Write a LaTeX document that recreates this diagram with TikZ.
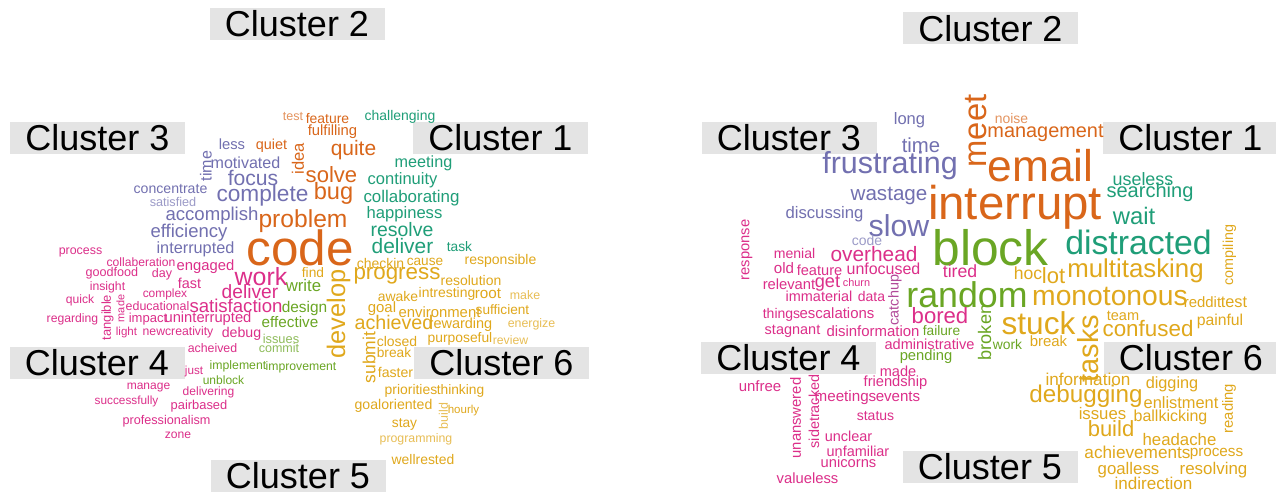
\documentclass[tikz,border=0pt]{standalone}
\usepackage{fontspec}
\setmainfont{Liberation Sans}
\usepackage{graphicx}
\definecolor{cP}{HTML}{7270B0}
\definecolor{cO}{HTML}{D9661A}
\definecolor{cT}{HTML}{1F9E78}
\definecolor{cM}{HTML}{DC2F8A}
\definecolor{cG}{HTML}{6AA624}
\definecolor{cY}{HTML}{E0A81C}
\colorlet{cPl}{cP!70}
\colorlet{cOl}{cO!70}
\colorlet{cGl}{cG!75}
\colorlet{cYl}{cY!75}
\colorlet{cMl}{cM!60!cP}
\definecolor{boxgray}{HTML}{E4E4E4}
\newcommand\wc[7]{\pgfmathsetlengthmacro\wcw{#4*1.01}\node[wordnode,text=#5,rotate=#6] (#1) at (#2,#3) {\resizebox{\wcw}{!}{#7}};}
\begin{document}
\begin{tikzpicture}[x=1pt,y=-1pt,
  wordnode/.style={inner sep=0pt,anchor=center},
  clusterlabel/.style={fill=boxgray,inner sep=0pt,minimum width=175pt,minimum height=32pt,font=\fontsize{36}{36}\selectfont,text=black}]
\useasboundingbox[fill=white] (0,0) rectangle (1276,495);
% ---------------- left cloud ----------------
\node[clusterlabel] (Lc2) at (297,24) {\raisebox{-2pt}{Cluster 2}};
\node[clusterlabel] (Lc3) at (97.5,137.5) {\raisebox{-2pt}{Cluster 3}};
\node[clusterlabel] (Lc1) at (500.5,137.5) {\raisebox{-2pt}{Cluster 1}};
\node[clusterlabel] (Lc4) at (97,362.5) {\raisebox{-2pt}{Cluster 4}};
\node[clusterlabel] (Lc6) at (501.5,362.5) {\raisebox{-2pt}{Cluster 6}};
\node[clusterlabel] (Lc5) at (298,476) {\raisebox{-2pt}{Cluster 5}};
% purple
\wc{L-less}{232}{144}{26}{cP}{0}{less}
\wc{L-time}{206}{166}{30}{cP}{90}{time}
\wc{L-motivated}{245.5}{162.5}{69}{cP}{0}{motivated}
\wc{L-focus}{253}{177.5}{50}{cP}{0}{focus}
\wc{L-concentrate}{170.5}{189}{73}{cP}{0}{concentrate}
\wc{L-satisfied}{173}{201.5}{46}{cPl}{0}{satisfied}
\wc{L-complete}{262.5}{195.5}{91}{cP}{0}{complete}
\wc{L-accomplish}{212}{215.5}{92}{cP}{0}{accomplish}
\wc{L-efficiency}{189}{232.5}{76}{cP}{0}{efficiency}
\wc{L-interrupted}{195.5}{249}{77}{cP}{0}{interrupted}
% orange
\wc{L-test}{293}{116.5}{20}{cOl}{0}{test}
\wc{L-feature}{327.5}{119}{43}{cO}{0}{feature}
\wc{L-fulfilling}{332.5}{132}{49}{cO}{0}{fulfilling}
\wc{L-quiet}{271.5}{146}{31}{cO}{0}{quiet}
\wc{L-idea}{298}{158.5}{31}{cO}{90}{idea}
\wc{L-quite}{353.5}{150}{45}{cO}{0}{quite}
\wc{L-solve}{331.5}{175}{51}{cO}{0}{solve}
\wc{L-bug}{333.5}{193}{39}{cO}{0}{bug}
\wc{L-problem}{303}{221}{88}{cO}{0}{problem}
\wc{L-code}{300}{248}{106}{cO}{0}{code}
% teal
\wc{L-challenging}{400}{116.5}{70}{cT}{0}{challenging}
\wc{L-meeting}{423.5}{163.5}{57}{cT}{0}{meeting}
\wc{L-continuity}{402.5}{180}{69}{cT}{0}{continuity}
\wc{L-collaborating}{411.5}{198.5}{95}{cT}{0}{collaborating}
\wc{L-happiness}{404.5}{214}{75}{cT}{0}{happiness}
\wc{L-resolve}{402}{230}{62}{cT}{0}{resolve}
\wc{L-deliverT}{402.5}{246.5}{61}{cT}{0}{deliver}
\wc{L-task}{459.5}{247}{25}{cT}{0}{task}
% gold
\wc{L-checkin}{380.5}{263}{47}{cY}{0}{checkin}
\wc{L-cause}{425}{262}{36}{cY}{0}{cause}
\wc{L-responsible}{500.5}{260.5}{71}{cY}{0}{responsible}
\wc{L-progress}{397}{276}{86}{cY}{0}{progress}
\wc{L-resolution}{471}{281}{60}{cY}{0}{resolution}
\wc{L-find}{313}{273}{22}{cY}{0}{find}
\wc{L-develop}{338.5}{314}{88}{cY}{90}{develop}
\wc{L-awake}{398}{297}{40}{cY}{0}{awake}
\wc{L-intresting}{447}{293.5}{56}{cY}{0}{intresting}
\wc{L-root}{488}{293.5}{26}{cY}{0}{root}
\wc{L-make}{525}{295}{30}{cYl}{0}{make}
\wc{L-goal}{382}{309}{28}{cY}{0}{goal}
\wc{L-environment}{439.5}{312}{81}{cY}{0}{environment}
\wc{L-sufficient}{502.5}{310}{53}{cY}{0}{sufficient}
\wc{L-achieved}{394}{322.5}{78}{cY}{0}{achieved}
\wc{L-rewarding}{460.5}{325}{63}{cY}{0}{rewarding}
\wc{L-energize}{531.5}{324}{47}{cYl}{0}{energize}
\wc{L-submit}{369}{357.5}{51}{cY}{90}{submit}
\wc{L-closed}{397}{342}{40}{cY}{0}{closed}
\wc{L-purposeful}{460}{338.5}{64}{cY}{0}{purposeful}
\wc{L-review}{510.5}{340.5}{35}{cYl}{0}{review}
\wc{L-break}{394}{352.5}{34}{cY}{0}{break}
\wc{L-faster}{395.5}{372.5}{35}{cY}{0}{faster}
\wc{L-priorities}{411}{391}{52}{cY}{0}{priorities}
\wc{L-thinking}{460.5}{391}{47}{cY}{0}{thinking}
\wc{L-goaloriented}{393.5}{406}{77}{cY}{0}{goaloriented}
\wc{L-build}{443.5}{416}{26}{cYl}{90}{build}
\wc{L-hourly}{463.5}{410.5}{31}{cY}{0}{hourly}
\wc{L-stay}{404.5}{424}{25}{cY}{0}{stay}
\wc{L-programming}{416}{439}{72}{cYl}{0}{programming}
\wc{L-wellrested}{423}{459.5}{62}{cY}{0}{wellrested}
% green
\wc{L-write}{303.5}{286}{35}{cG}{0}{write}
\wc{L-design}{304.5}{308.5}{45}{cG}{0}{design}
\wc{L-effective}{290}{322.5}{56}{cG}{0}{effective}
\wc{L-issues}{281}{339}{36}{cGl}{0}{issues}
\wc{L-commit}{279}{348}{40}{cGl}{0}{commit}
\wc{L-implement}{238}{366}{56}{cG}{0}{implement}
\wc{L-improvement}{301}{367.5}{70}{cG}{0}{improvement}
\wc{L-unblock}{223.5}{380.5}{41}{cG}{0}{unblock}
% magenta
\wc{L-work}{261}{277}{52}{cM}{0}{work}
\wc{L-deliverM}{250}{291.5}{56}{cM}{0}{deliver}
\wc{L-satisfaction}{236}{305.5}{92}{cM}{0}{satisfaction}
\wc{L-uninterrupted}{208}{319}{86}{cM}{0}{uninterrupted}
\wc{L-debug}{241.5}{333.5}{39}{cM}{0}{debug}
\wc{L-acheived}{212.5}{348.5}{49}{cM}{0}{acheived}
\wc{L-just}{194}{371.5}{18}{cM}{0}{just}
\wc{L-process}{80.5}{252}{43}{cM}{0}{process}
\wc{L-collaberation}{141}{262.5}{68}{cM}{0}{collaberation}
\wc{L-engaged}{205.5}{267}{57}{cM}{0}{engaged}
\wc{L-goodfood}{112}{273.5}{52}{cM}{0}{goodfood}
\wc{L-day}{162}{274}{20}{cM}{0}{day}
\wc{L-fast}{189.5}{283}{23}{cM}{0}{fast}
\wc{L-insight}{107.5}{287.5}{35}{cM}{0}{insight}
\wc{L-complex}{165}{294.5}{44}{cM}{0}{complex}
\wc{L-quick}{80}{300}{28}{cM}{0}{quick}
\wc{L-tangible}{107.5}{317.5}{45}{cM}{90}{tangible}
\wc{L-made}{120.5}{308.5}{27}{cM}{90}{made}
\wc{L-educational}{157.5}{306}{63}{cM}{0}{educational}
\wc{L-regarding}{72.5}{319}{51}{cM}{0}{regarding}
\wc{L-impact}{148}{319}{38}{cM}{0}{impact}
\wc{L-light}{126.5}{332.5}{21}{cM}{0}{light}
\wc{L-newcreativity}{178}{332}{70}{cM}{0}{newcreativity}
\wc{L-manage}{148.5}{387.5}{43}{cM}{0}{manage}
\wc{L-delivering}{208.5}{392.5}{51}{cM}{0}{delivering}
\wc{L-successfully}{126.5}{401}{63}{cM}{0}{successfully}
\wc{L-pairbased}{199}{406}{56}{cM}{0}{pairbased}
\wc{L-professionalism}{166.5}{421.5}{87}{cM}{0}{professionalism}
\wc{L-zone}{178}{435}{26}{cM}{0}{zone}
% ---------------- right cloud ----------------
\node[clusterlabel] (Rc2) at (990.5,28.5) {\raisebox{-2pt}{Cluster 2}};
\node[clusterlabel] (Rc3) at (789,137.5) {\raisebox{-2pt}{Cluster 3}};
\node[clusterlabel] (Rc1) at (1190.5,137.5) {\raisebox{-2pt}{Cluster 1}};
\node[clusterlabel] (Rc4) at (788.5,357.5) {\raisebox{-2pt}{Cluster 4}};
\node[clusterlabel] (Rc6) at (1191,357.5) {\raisebox{-2pt}{Cluster 6}};
\node[clusterlabel] (Rc5) at (990,467) {\raisebox{-2pt}{Cluster 5}};
% purple
\wc{R-long}{909.5}{120.5}{31}{cP}{0}{long}
\wc{R-time}{921}{145.5}{38}{cP}{0}{time}
\wc{R-frustrating}{890}{165.5}{134}{cP}{0}{frustrating}
\wc{R-wastage}{889}{196}{76}{cP}{0}{wastage}
\wc{R-discussing}{824.5}{214}{77}{cP}{0}{discussing}
\wc{R-slow}{899}{226}{60}{cP}{0}{slow}
\wc{R-code}{867}{240.5}{30}{cPl}{0}{code}
% orange
\wc{R-meet}{976}{131}{72}{cO}{90}{meet}
\wc{R-noise}{1011.5}{118.5}{33}{cOl}{0}{noise}
\wc{R-management}{1045.5}{133.5}{115}{cO}{0}{management}
\wc{R-email}{1040.5}{166}{105}{cO}{0}{email}
\wc{R-interrupt}{1015}{207}{172}{cO}{0}{interrupt}
% teal
\wc{R-useless}{1143}{179}{60}{cT}{0}{useless}
\wc{R-searching}{1150}{192}{86}{cT}{0}{searching}
\wc{R-wait}{1134}{215.5}{42}{cT}{0}{wait}
\wc{R-distracted}{1138.5}{242.5}{145}{cT}{0}{distracted}
% green
\wc{R-block}{990.5}{248}{115}{cG}{0}{block}
\wc{R-random}{967}{295}{120}{cG}{0}{random}
\wc{R-broken}{984.5}{332.5}{55}{cG}{90}{broken}
\wc{R-failure}{941.5}{331}{37}{cG}{0}{failure}
\wc{R-work}{1007.5}{345}{29}{cG}{0}{work}
\wc{R-pending}{926}{356.5}{52}{cG}{0}{pending}
% magenta
\wc{R-tired}{960}{271.5}{34}{cM}{0}{tired}
\wc{R-bored}{940}{315.5}{56}{cM}{0}{bored}
\wc{R-response}{747}{250}{60}{cM}{90}{response}
\wc{R-menial}{794.5}{253}{41}{cM}{0}{menial}
\wc{R-overhead}{874}{254.5}{86}{cM}{0}{overhead}
\wc{R-old}{784}{268}{20}{cM}{0}{old}
\wc{R-feature}{819.5}{270}{45}{cM}{0}{feature}
\wc{R-unfocused}{883.5}{268.5}{73}{cM}{0}{unfocused}
\wc{R-relevant}{789}{284}{52}{cM}{0}{relevant}
\wc{R-get}{827.5}{284}{25}{cM}{0}{get}
\wc{R-churn}{856.5}{283}{27}{cM}{0}{churn}
\wc{R-catchup}{895}{300}{50}{cMl}{90}{catchup}
\wc{R-immaterial}{819}{296}{66}{cM}{0}{immaterial}
\wc{R-data}{871.5}{296}{27}{cM}{0}{data}
\wc{R-things}{781.5}{314.5}{37}{cM}{0}{things}
\wc{R-escalations}{837}{313}{74}{cM}{0}{escalations}
\wc{R-stagnant}{792.5}{331.5}{55}{cM}{0}{stagnant}
\wc{R-disinformation}{873}{331.5}{92}{cM}{0}{disinformation}
\wc{R-administrative}{929.5}{344}{89}{cM}{0}{administrative}
\wc{R-made}{898}{371}{36}{cM}{0}{made}
\wc{R-friendship}{895.5}{383}{63}{cM}{0}{friendship}
\wc{R-meetings}{845.5}{397.5}{61}{cM}{0}{meetings}
\wc{R-events}{898}{397}{44}{cM}{0}{events}
\wc{R-status}{875.5}{416}{37}{cM}{0}{status}
\wc{R-unclear}{848.5}{436.5}{47}{cM}{0}{unclear}
\wc{R-unfamiliar}{858}{451}{62}{cM}{0}{unfamiliar}
\wc{R-unicorns}{848.5}{462}{55}{cM}{0}{unicorns}
\wc{R-valueless}{807.5}{478}{61}{cM}{0}{valueless}
\wc{R-unfree}{760}{386.5}{42}{cM}{0}{unfree}
\wc{R-unanswered}{795.5}{418}{80}{cM}{90}{unanswered}
\wc{R-sidetracked}{814}{411.5}{73}{cM}{90}{sidetracked}
% gold
\wc{R-hoc}{1028}{273}{28}{cY}{0}{hoc}
\wc{R-lot}{1053.5}{276}{23}{cY}{0}{lot}
\wc{R-multitasking}{1135.5}{271}{135}{cY}{0}{multitasking}
\wc{R-monotonous}{1110}{296}{154}{cY}{0}{monotonous}
\wc{R-stuck}{1038.5}{323.5}{73}{cY}{0}{stuck}
\wc{R-tasks}{1088.5}{348.5}{67}{cY}{90}{tasks}
\wc{R-team}{1123}{315.5}{32}{cY}{0}{team}
\wc{R-reddit}{1202.5}{302.5}{37}{cY}{0}{reddit}
\wc{R-test}{1234}{302.5}{26}{cY}{0}{test}
\wc{R-painful}{1220}{321.5}{46}{cY}{0}{painful}
\wc{R-confused}{1148}{328.5}{90}{cY}{0}{confused}
\wc{R-break}{1048.5}{341.5}{37}{cY}{0}{break}
\wc{R-compiling}{1229.5}{255}{60}{cY}{90}{compiling}
\wc{R-information}{1088}{379}{84}{cY}{0}{information}
\wc{R-digging}{1172}{384.5}{52}{cY}{0}{digging}
\wc{R-debugging}{1086}{396.5}{112}{cY}{0}{debugging}
\wc{R-enlistment}{1181}{403}{74}{cY}{0}{enlistment}
\wc{R-reading}{1229}{408.5}{49}{cY}{90}{reading}
\wc{R-issues}{1102.5}{414}{47}{cY}{0}{issues}
\wc{R-ballkicking}{1170.5}{417.5}{73}{cY}{0}{ballkicking}
\wc{R-build}{1111}{429}{46}{cY}{0}{build}
\wc{R-headache}{1179.5}{439}{73}{cY}{0}{headache}
\wc{R-achievements}{1137.5}{452.5}{105}{cY}{0}{achievements}
\wc{R-process}{1216.5}{454}{53}{cY}{0}{process}
\wc{R-goalless}{1128.5}{470}{61}{cY}{0}{goalless}
\wc{R-resolving}{1213.5}{470}{67}{cY}{0}{resolving}
\wc{R-indirection}{1153.5}{483.5}{77}{cY}{0}{indirection}
\end{tikzpicture}
\end{document}
